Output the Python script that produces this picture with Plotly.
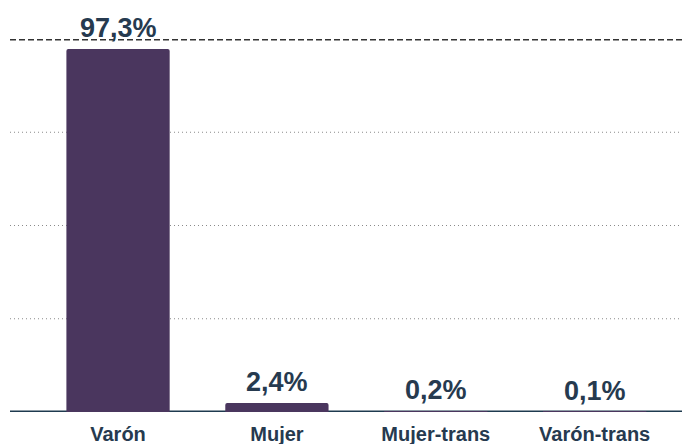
import plotly.graph_objects as go

categories = ["Varón", "Mujer", "Mujer-trans", "Varón-trans"]
values = [97.3, 2.4, 0.2, 0.1]
labels = ["97,3%", "2,4%", "0,2%", "0,1%"]

BAR = "#4a365e"
TXT = "#263a4f"
AXIS = "#1e3a4f"
FONT = "Liberation Sans, Arial, sans-serif"

fig = go.Figure()
fig.add_trace(go.Bar(
    x=categories, y=values, width=0.65,
    marker=dict(color=BAR, line=dict(width=0), cornerradius=2),
    hoverinfo="skip",
))

for c, v, t in zip(categories, values, labels):
    fig.add_annotation(x=c, y=v, text=f"<b>{t}</b>", showarrow=False,
                       yanchor="bottom", yshift=4,
                       font=dict(family=FONT, size=27, color=TXT))

shapes = []
for g in [25, 50, 75]:
    shapes.append(dict(type="line", xref="paper", x0=0, x1=1, yref="y", y0=g, y1=g,
                       line=dict(color="#8a8a8a", width=1, dash="1px,3px"), layer="below"))
shapes.append(dict(type="line", xref="paper", x0=0, x1=1, yref="y", y0=100, y1=100,
                   line=dict(color="#333333", width=3, dash="6px,3px"), layer="below"))
shapes.append(dict(type="line", xref="paper", x0=0, x1=1, yref="y", y0=0, y1=0,
                   line=dict(color=AXIS, width=3), layer="below"))

fig.update_layout(
    width=682, height=436,
    margin=dict(l=2, r=0, t=31, b=32, autoexpand=False),
    paper_bgcolor="white", plot_bgcolor="white",
    showlegend=False,
    shapes=shapes,
    xaxis=dict(range=[-0.68, 3.6], showgrid=False, zeroline=False, showline=False,
               automargin=False,
               tickfont=dict(family=FONT, size=20, color=TXT),
               tickvals=categories, ticktext=[f"<b>{c}</b>" for c in categories],
               ticks="", ticklabelstandoff=8),
    yaxis=dict(range=[0, 100], showgrid=False, zeroline=False, showline=False,
               automargin=False, showticklabels=False, ticks=""),
)

fig.write_html("out.html")
